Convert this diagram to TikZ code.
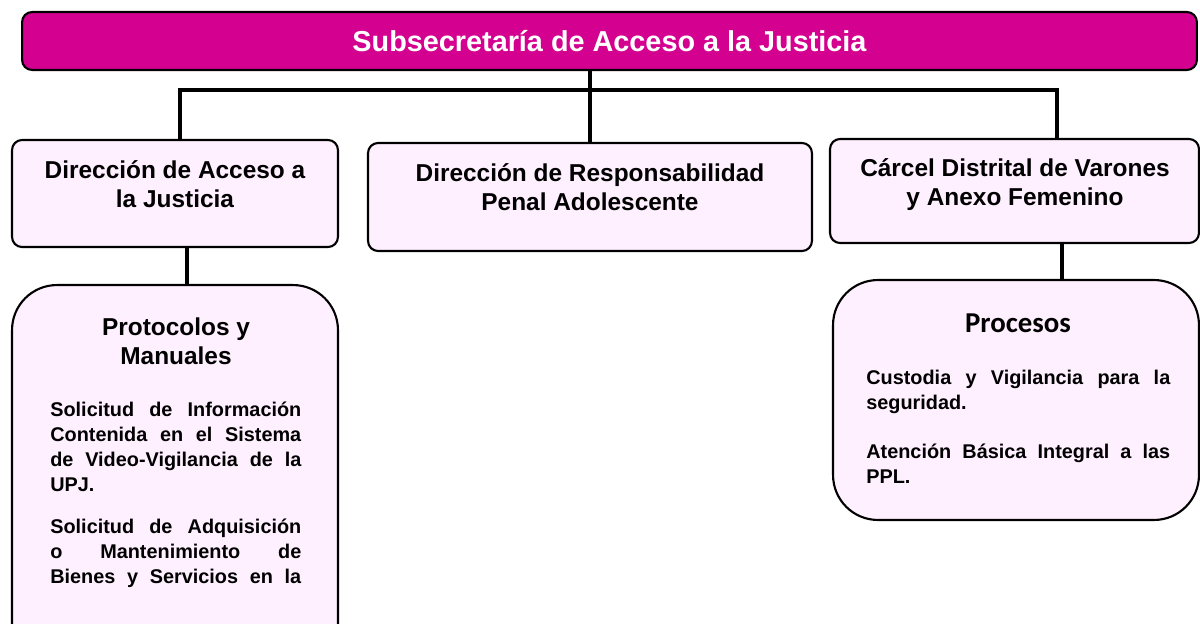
\documentclass[tikz,border=0pt]{standalone}
\usepackage{fontspec}
\setmainfont{Liberation Sans}
\newfontfamily\procfont{Carlito}
\definecolor{subsec}{RGB}{212,0,143}
\definecolor{boxpink}{RGB}{255,240,255}
\def\hfont{\fontsize{13.9}{16.5}\selectfont\bfseries}
\def\bfont{\fontsize{11.3}{14.2}\selectfont\bfseries}

\begin{document}
\begin{tikzpicture}[x=0.02cm,y=0.02cm,
    unitbox/.style={draw,line width=1.2pt,fill=boxpink,rounded corners=0.2cm},
    bigbox/.style={draw,line width=1.2pt,fill=boxpink,rounded corners=0.9cm},
    headtext/.style={align=center,font=\hfont},
    bodytext/.style={align=justify,font=\bfont,inner sep=0pt,anchor=north west},
    link/.style={line width=2.1pt}]
\useasboundingbox (0,0) rectangle (1200,623);
\begin{scope}
\clip (0,0) rectangle (1200,623);
% cabecera
\node[draw,line width=1.2pt,fill=subsec,rounded corners=0.2cm,minimum width=23.5cm,minimum height=1.16cm,
      text=white,font=\fontsize{16.4}{19}\selectfont\bfseries] (subsec) at (609.5,582) {Subsecretaría de Acceso a la Justicia};
% direcciones
\node[unitbox,minimum width=6.52cm,minimum height=2.14cm] (dacc) at (175,429.5) {};
\node[headtext] (dacctxt) at (175,438.5) {Dirección de Acceso a\\la Justicia};
\node[unitbox,minimum width=8.88cm,minimum height=2.16cm] (dres) at (590,426) {};
\node[headtext] (drestxt) at (590,435.5) {Dirección de Responsabilidad\\Penal Adolescente};
\node[unitbox,minimum width=7.38cm,minimum height=2.08cm] (carc) at (1014.5,432) {};
\node[headtext] (carctxt) at (1015,438.5) {Cárcel Distrital de Varones\\y Anexo Femenino};
% protocolos y procesos
\node[bigbox,minimum width=6.52cm,minimum height=8.3cm] (proto) at (175,130.5) {};
\node[headtext] (prototxt) at (176,282) {Protocolos y\\Manuales};
\node[bodytext,text width=5.02cm] (protobody) at (50,221) {Solicitud de Información\linebreak
  Contenida en el Sistema\linebreak de Video-Vigilancia de la\linebreak UPJ.\par\vspace{9.6pt}
  Solicitud de Adquisición\linebreak o Mantenimiento de\linebreak Bienes y Servicios en la\linebreak};
\node[bigbox,minimum width=7.32cm,minimum height=4.8cm] (proc) at (1016,223) {};
\node[font=\procfont\fontsize{16.4}{19}\selectfont\bfseries] (proctxt) at (1018,300) {Procesos};
\node[bodytext,text width=6.08cm] (procbody) at (866,253.5) {Custodia y Vigilancia para la\linebreak
  seguridad.\par\vspace{14pt}Atención Básica Integral a las\linebreak PPL.};
% conectores
\coordinate (busL) at (180,533);
\coordinate (busR) at (1057,533);
\coordinate (dropL) at (187,0);
\coordinate (dropR) at (1062,0);
\draw[link] (busL |- dacc.north) -- (busL) -- (busR) -- (busR |- carc.north);
\draw[link] (dres.north |- subsec.south) -- (dres.north);
\draw[link] (dropL |- dacc.south) -- (dropL |- proto.north);
\draw[link] (dropR |- carc.south) -- (dropR |- proc.north);
\end{scope}
\end{tikzpicture}
\end{document}
